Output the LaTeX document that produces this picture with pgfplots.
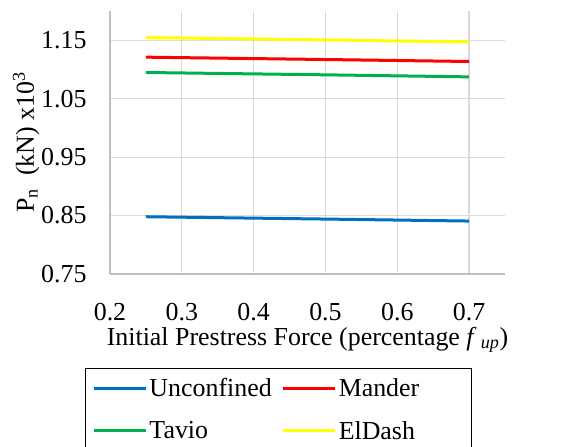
\documentclass[border=0pt]{standalone}
\usepackage{fontspec}
\setmainfont{Liberation Serif}
\usepackage{pgfplots}
\pgfplotsset{compat=1.18}
\definecolor{cblue}{RGB}{0,112,192}
\definecolor{cred}{RGB}{255,0,0}
\definecolor{cgreen}{RGB}{0,176,80}
\definecolor{cyellow}{RGB}{255,255,0}
\definecolor{gridc}{RGB}{217,217,217}
\definecolor{axisc}{RGB}{191,191,191}
\begin{document}
\begin{tikzpicture}[font=\fontsize{26}{30}\selectfont]
\clip (-110bp,-173bp) rectangle (460bp,274bp);
\begin{axis}[
  scale only axis, width=395bp, height=263bp,
  xmin=0.2, xmax=0.75, ymin=0.75, ymax=1.2,
  xtick={0.2,0.3,0.4,0.5,0.6,0.7},
  ytick={0.75,0.85,0.95,1.05,1.15},
  tick label style={font=\fontsize{26}{30}\selectfont},
  label style={font=\fontsize{26}{30}\selectfont},
  xticklabel style={yshift=-26bp, /pgf/number format/.cd, fixed, fixed zerofill, precision=1, assume math mode=true},
  yticklabel style={xshift=-20bp, /pgf/number format/.cd, fixed, fixed zerofill, precision=2, assume math mode=true},
  xlabel style={yshift=1bp},
  ylabel style={yshift=-5bp},
  grid=major, major grid style={draw=gridc, line width=1.2bp},
  axis x line*=bottom, axis y line*=left,
  axis line style={draw=axisc, line width=1.2bp, -},
  major tick length=0pt,
  xlabel={Initial Prestress Force (percentage \textit{f}\,\textsubscript{\textit{up}})},
  ylabel={P\textsubscript{n} \ (kN) x10\textsuperscript{3}},
  legend columns=2,
  legend style={at={(-0.0633,-0.357)}, anchor=north west, draw=black, line width=1bp,
    font=\fontsize{26}{30}\selectfont, inner xsep=7bp, inner ysep=8bp,
    row sep=19bp,
    /tikz/every even column/.append style={column sep=8bp}},
  legend image code/.code={\draw[#1, line width=3bp] (0bp,0bp) -- (52bp,0bp);},
  legend cell align=left,
]
\addplot[cblue, line width=3bp] coordinates {(0.25,0.848) (0.5,0.844) (0.7,0.8406)};
\addlegendentry{Unconfined}
\addplot[cred, line width=3bp] coordinates {(0.25,1.121) (0.5,1.117) (0.7,1.1136)};
\addlegendentry{\makebox[124bp][l]{Mander}}
\addplot[cgreen, line width=3bp] coordinates {(0.25,1.0948) (0.5,1.0908) (0.7,1.0873)};
\addlegendentry{Tavio}
\addplot[cyellow, line width=3bp] coordinates {(0.25,1.1546) (0.5,1.1505) (0.7,1.147)};
\addlegendentry{ElDash}
\end{axis}
\end{tikzpicture}
\end{document}
